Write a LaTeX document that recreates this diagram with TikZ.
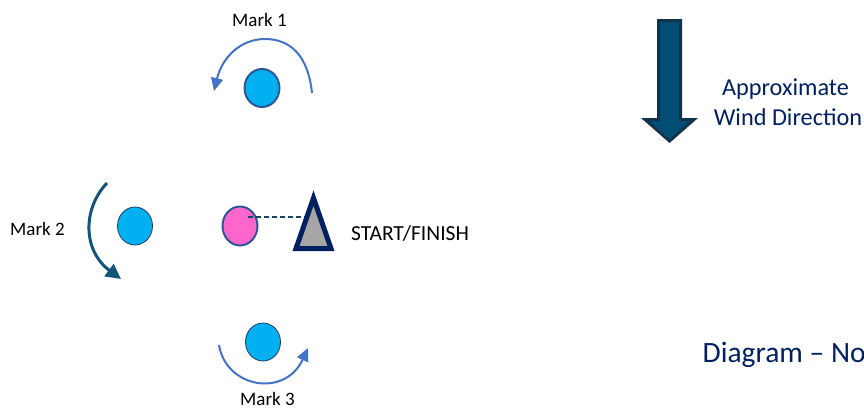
\documentclass[tikz,border=0pt]{standalone}
\usepackage{fontspec}
\setmainfont{Carlito}
\usetikzlibrary{shapes.geometric,arrows.meta}
\definecolor{buoy}{RGB}{0,176,240}
\definecolor{buoyline}{RGB}{47,85,151}
\definecolor{buoydark}{RGB}{31,56,100}
\definecolor{pinkfill}{RGB}{255,102,204}
\definecolor{navy}{RGB}{0,32,96}
\definecolor{arrowblue}{RGB}{68,114,196}
\definecolor{arrowteal}{RGB}{20,84,120}
\definecolor{windfill}{RGB}{0,78,118}
\definecolor{windline}{RGB}{18,52,74}
\definecolor{dashcol}{RGB}{20,70,100}
\begin{document}
\begin{tikzpicture}[x=1pt,y=-1pt,
  buoynode/.style={ellipse,minimum width=35pt,minimum height=38pt,inner sep=0pt,fill=buoy},
  marklabel/.style={anchor=base,inner sep=0pt,font=\fontsize{19}{23}\selectfont},
  navytext/.style={anchor=base,inner sep=0pt,text=navy},
  roundarrow/.style={line width=2pt,draw=arrowblue,-{Triangle[length=13pt,width=12pt]}}
]
\useasboundingbox (0,0) rectangle (864,408);
% wind arrow
\draw[fill=windfill,draw=windline,line width=3pt,line join=miter]
  (658.5,20.5) -- (680.5,20.5) -- (680.5,119.5) -- (694,119.5) -- (669.5,141) -- (645,119.5) -- (658.5,119.5) -- cycle;
\node[navytext,font=\fontsize{24.3}{29}\selectfont] (wind1) at (785.5,95) {Approximate};
\node[navytext,font=\fontsize{24.3}{29}\selectfont] (wind2) at (788,125) {Wind Direction};
\node[navytext,anchor=base west,font=\fontsize{29.5}{34}\selectfont] (diag) at (702.5,362) {Diagram – No};
% mark 1
\node[buoynode,draw=buoyline,line width=2pt] (m1) at (262,88) {};
\node[marklabel] (m1t) at (259.5,26.7) {Mark 1};
\coordinate (a1s) at (312,93);
\coordinate (a1e) at (214,91);
\draw[roundarrow] (a1s) .. controls (308,55) and (290,39) .. (265,39) .. controls (240,39) and (222,58) .. (a1e);
% mark 2
\node[buoynode,draw=buoydark,line width=0.8pt] (m2) at (135,226) {};
\node[marklabel] (m2t) at (37.5,235) {Mark 2};
\coordinate (a2s) at (107,183);
\coordinate (a2e) at (121,279);
\draw[line width=3pt,draw=arrowteal,-{Triangle[length=15pt,width=15pt]}] (a2s) .. controls (83,208) and (82,250) .. (a2e);
% mark 3
\node[buoynode,draw=buoydark,line width=0.8pt] (m3) at (263,342) {};
\node[marklabel] (m3t) at (267.5,405) {Mark 3};
\coordinate (a3s) at (219,345);
\coordinate (a3e) at (308,348);
\draw[roundarrow] (a3s) .. controls (226,388) and (285,398) .. (a3e);
% start/finish
\node[ellipse,minimum width=35pt,minimum height=39pt,inner sep=0pt,fill=pinkfill,draw=buoyline,line width=2pt] (pin) at (240,226) {};
\coordinate (ds) at (248,217);
\coordinate (de) at (307,217);
\draw[dashcol,line width=2pt,dash pattern=on 5pt off 3pt] (ds) -- (de);
\draw[fill=black!35,draw=navy,line width=5pt,line join=miter,miter limit=10] (313.5,198) -- (331,248.5) -- (296,248.5) -- cycle;
\node[anchor=base,inner sep=0pt,font=\fontsize{21.5}{25}\selectfont] (sf) at (410,240) {START/FINISH};
\end{tikzpicture}
\end{document}
